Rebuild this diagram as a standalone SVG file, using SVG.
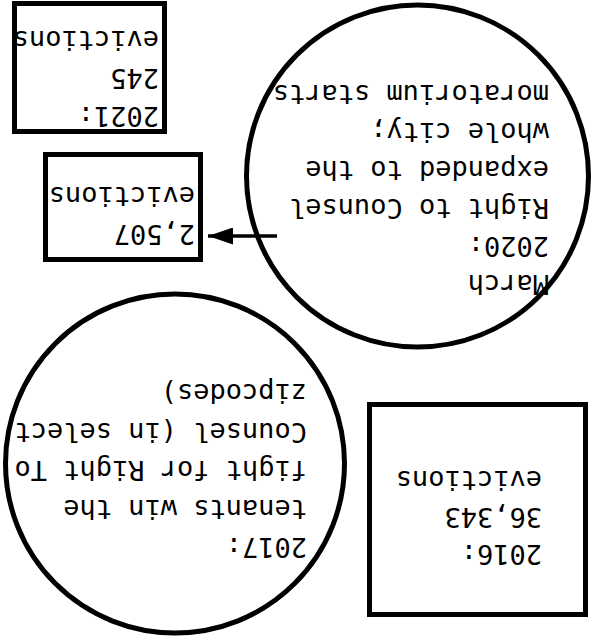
<svg xmlns="http://www.w3.org/2000/svg" width="592" height="637" viewBox="0 0 592 637">
<defs>
<style>
.shape{fill:#fff;stroke:#000;stroke-width:5}
.t{font-family:"DejaVu Sans Mono","Liberation Mono",monospace;font-size:27px;fill:#000}
.edge{stroke:#000;stroke-width:3.5;fill:none}
</style>
<marker id="ah" markerWidth="25" markerHeight="17" refX="25" refY="8.5" orient="auto" markerUnits="userSpaceOnUse">
<path d="M0,0 L25,8.5 L0,17 Z" fill="#000"/>
</marker>
</defs>
<rect width="592" height="637" fill="#fff"/>
<g transform="rotate(180 296 318.5)">
<g id="n2016">
<rect class="shape" x="6.5" y="22.5" width="216" height="210"/>
<text class="t" x="50" y="92">2016:</text>
<text class="t" x="50" y="129">36,343</text>
<text class="t" x="50" y="166">evictions</text>
</g>
<g id="n2017">
<circle class="shape" cx="417" cy="173.5" r="169.5"/>
<text class="t" x="285" y="99">2017:</text>
<text class="t" x="285" y="137.5">tenants win the</text>
<text class="t" x="285" y="176">fight for Right To</text>
<text class="t" x="285" y="214.5">Counsel (in select</text>
<text class="t" x="285" y="253">zipcodes)</text>
</g>
<g id="n2020">
<circle class="shape" cx="174.5" cy="461" r="171"/>
<text class="t" x="43" y="362">March</text>
<text class="t" x="43" y="400">2020:</text>
<text class="t" x="43" y="438">Right to Counsel</text>
<text class="t" x="43" y="476">expanded to the</text>
<text class="t" x="43" y="514">whole city;</text>
<text class="t" x="43" y="552">moratorium starts</text>
</g>
<g id="n2507">
<rect class="shape" x="391.5" y="377.5" width="155" height="105"/>
<text class="t" x="397" y="412">2,507</text>
<text class="t" x="397" y="450">evictions</text>
</g>
<g id="n2021">
<rect class="shape" x="427.5" y="505.5" width="150" height="128"/>
<text class="t" x="433" y="530">2021:</text>
<text class="t" x="433" y="568">245</text>
<text class="t" x="433" y="606">evictions</text>
</g>
<g id="connectors">
<line class="edge" x1="315" y1="401" x2="384" y2="401" marker-end="url(#ah)"/>
</g>
</g>
</svg>
